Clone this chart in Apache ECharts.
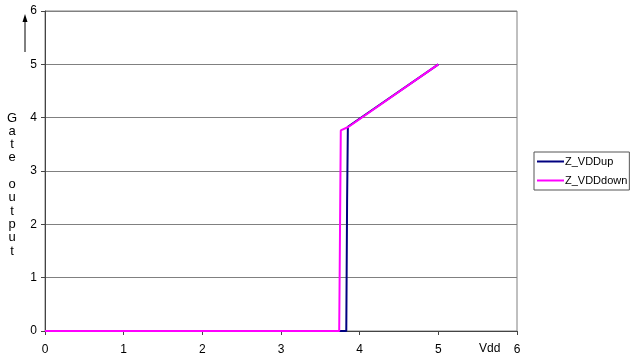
<!DOCTYPE html>
<html><head><meta charset="utf-8">
<script src="https://cdn.jsdelivr.net/npm/echarts@6/dist/echarts.min.js"></script>
<style>html,body{margin:0;padding:0;background:#fff}#c{width:632px;height:358px}</style>
</head><body><div id="c"></div>
<script>
const seriesNames = ["Z_VDDup", "Z_VDDdown"];
const vddUp = [[0,0],[3.83,0],[3.84,2.4],[3.85,3.83],[5,5]];
const vddDown = [[0,0],[3.74,0],[3.75,1.86],[3.76,3.76],[3.86,3.83],[5,5]];
const xTicks = [0,1,2,3,4,5,6];
const yTicks = [0,1,2,3,4,5,6];
const yTitle = "Gate output";
const xTitle = "Vdd";

const font = "'Liberation Sans', Arial, sans-serif";
const chart = echarts.init(document.getElementById('c'), null, {renderer:'canvas'});
const letters = yTitle.split('').map((ch, i) => ({
  type:'text', x:12, y:118 + i*13.3,
  style:{text:ch, fontSize:13, fontFamily:font, fill:'#000', align:'center', verticalAlign:'middle'}
}));
chart.setOption({
  animation:false,
  backgroundColor:'#fff',
  grid:{left:45, top:11, right:115, bottom:27, show:true, borderColor:'#808080', borderWidth:1},
  legend:{
    orient:'vertical', left:534, top:152, itemWidth:27, itemHeight:2, itemGap:8,
    padding:[4,2,4,3], borderColor:'#555', borderWidth:1,
    icon:'rect',
    textStyle:{fontFamily:font, fontSize:11, color:'#000', padding:[0,0,0,-4]},
    data:seriesNames
  },
  xAxis:{type:'value', min:0, max:6, interval:1,
    axisLine:{show:true, lineStyle:{color:'#444'}},
    axisTick:{show:true, length:4, lineStyle:{color:'#444'}},
    splitLine:{show:false},
    axisLabel:{fontFamily:font, fontSize:12, color:'#000', margin:13,
      formatter:v=> xTicks.includes(v)?String(v):''}
  },
  yAxis:{type:'value', min:0, max:6, interval:1,
    axisLine:{show:true, lineStyle:{color:'#444'}},
    axisTick:{show:true, length:4, lineStyle:{color:'#444'}},
    splitLine:{show:true, lineStyle:{color:'#808080', width:1}},
    axisLabel:{fontFamily:font, fontSize:12, color:'#000', margin:8,
      formatter:v=> yTicks.includes(v)?String(v):''}
  },
  graphic:letters.concat([
    {type:'text', x:479, y:343, style:{text:xTitle, fontSize:12, fontFamily:font, fill:'#000'}},
    {type:'line', shape:{x1:25, y1:52, x2:25, y2:20}, style:{stroke:'#000', lineWidth:1}},
    {type:'polygon', shape:{points:[[25,14],[22.5,22],[27.5,22]]}, style:{fill:'#000'}}
  ]),
  series:[
    {name:seriesNames[0], type:'line', data:vddUp, showSymbol:false, symbol:'none',
      lineStyle:{color:'#000080', width:2}, itemStyle:{color:'#000080'}},
    {name:seriesNames[1], type:'line', data:vddDown, showSymbol:false, symbol:'none',
      lineStyle:{color:'#FF00FF', width:2}, itemStyle:{color:'#FF00FF'}}
  ]
});
</script></body></html>
